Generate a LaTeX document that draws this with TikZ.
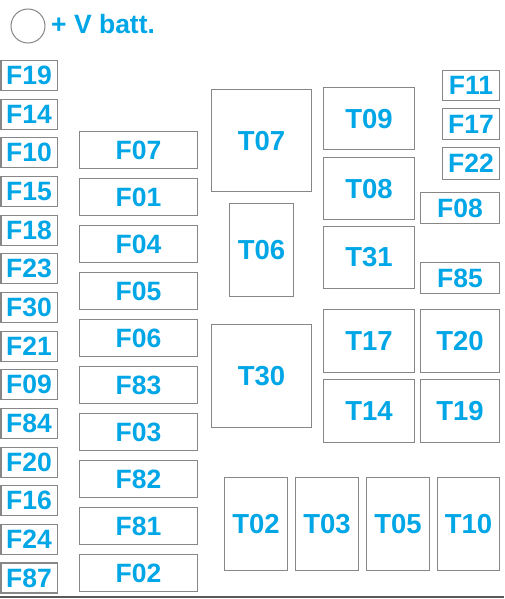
\documentclass[tikz,border=0pt]{standalone}
\usepackage{fontspec}
\setmainfont{Liberation Sans}
\definecolor{lblue}{RGB}{0,166,230}
\definecolor{bgray}{RGB}{135,135,135}
\begin{document}
\begin{tikzpicture}[x=1pt,y=-1pt,
  box/.style={draw=bgray,line width=1.1pt,fill=white,rectangle,inner sep=0pt,anchor=north west,
    text=lblue,font=\fontsize{26.5}{26.5}\selectfont\bfseries},
  tbox/.style={box,font=\fontsize{27.5}{27.5}\selectfont\bfseries}]
\useasboundingbox (0,0) rectangle (504,599);
% battery symbol
\node[circle,draw=bgray,line width=1pt,minimum size=34pt,inner sep=0pt] (batt) at (28,26) {};
\node[anchor=base west,text=lblue,font=\fontsize{26.5}{26.5}\selectfont\bfseries,inner sep=0pt] (battlbl) at (51,34) {+ V batt.};
% left column
\foreach \n [count=\i from 0] in {F19,F14,F10,F15,F18,F23,F30,F21,F09,F84,F20,F16,F24,F87}{
  \node[box,minimum width=56pt,minimum height=30pt] (\n) at (0.5,{60+\i*38.65}) {\n};
}
% middle column
\foreach \n [count=\i from 0] in {F07,F01,F04,F05,F06,F83,F03,F82,F81,F02}{
  \node[box,minimum width=118pt,minimum height=37pt] (\n) at (79,{131+\i*47}) {\n};
}
% relays
\node[tbox,minimum width=100pt,minimum height=102pt] (T07) at (211,89) {T07};
\node[tbox,minimum width=64pt,minimum height=93pt] (T06) at (229,203) {T06};
\node[tbox,minimum width=100pt,minimum height=103pt] (T30) at (211,324) {T30};
\node[tbox,minimum width=91pt,minimum height=62pt] (T09) at (323,87) {T09};
\node[tbox,minimum width=91pt,minimum height=62pt] (T08) at (323,157) {T08};
\node[tbox,minimum width=91pt,minimum height=62pt] (T31) at (323,226) {T31};
\node[tbox,minimum width=91pt,minimum height=63pt] (T17) at (323,309) {T17};
\node[tbox,minimum width=91pt,minimum height=63pt] (T14) at (323,379) {T14};
\node[tbox,minimum width=79pt,minimum height=63pt] (T20) at (420,309) {T20};
\node[tbox,minimum width=79pt,minimum height=63pt] (T19) at (420,379) {T19};
\node[tbox,minimum width=63pt,minimum height=93pt] (T02) at (224,477) {T02};
\node[tbox,minimum width=63pt,minimum height=93pt] (T03) at (295,477) {T03};
\node[tbox,minimum width=63pt,minimum height=93pt] (T05) at (366,477) {T05};
\node[tbox,minimum width=62pt,minimum height=93pt] (T10) at (437,477) {T10};
% right fuses
\node[box,minimum width=57pt,minimum height=30pt] (F11) at (442,70) {F11};
\node[box,minimum width=57pt,minimum height=31pt] (F17) at (442,108) {F17};
\node[box,minimum width=57pt,minimum height=32pt] (F22) at (442,147) {F22};
\node[box,minimum width=79pt,minimum height=31pt] (F08) at (420,192) {F08};
\node[box,minimum width=79pt,minimum height=31pt] (F85) at (420,262) {F85};
% bottom edge
\coordinate (bl) at (0,597);
\coordinate (br) at (504,597);
\draw[line width=2pt,draw={rgb,255:red,90;green,90;blue,90}] (bl) -- (br);
\end{tikzpicture}
\end{document}
